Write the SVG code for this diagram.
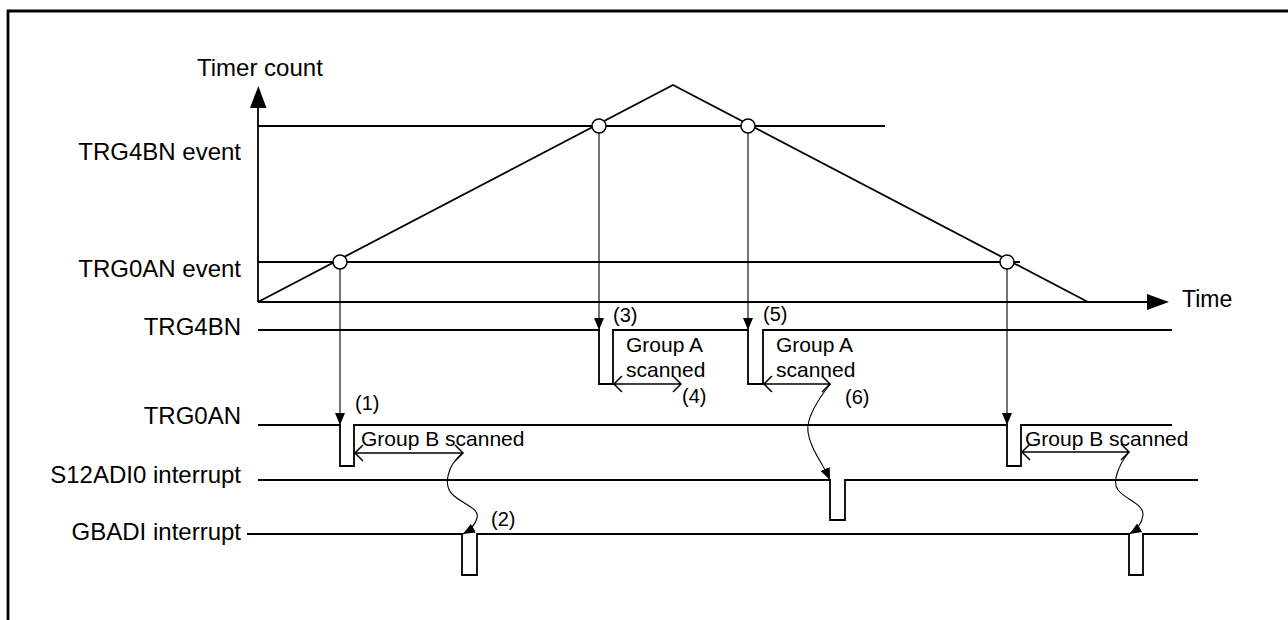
<svg xmlns="http://www.w3.org/2000/svg" width="1288" height="620" viewBox="0 0 1288 620">
<style>
text{font-family:"Liberation Sans",Arial,sans-serif;fill:#000}
.lbl{font-size:24px}
.grp{font-size:21px}
.num{font-size:20px}
.sig{fill:none;stroke:#000;stroke-width:1.8}
.thin{fill:none;stroke:#000;stroke-width:1.1}
.dbl{fill:none;stroke:#000;stroke-width:1.5}
.pt{fill:#fff;stroke:#000;stroke-width:1.5}
</style>
<defs>
<marker id="ah" markerUnits="userSpaceOnUse" markerWidth="12" markerHeight="12" viewBox="0 0 12 12" refX="12" refY="6" orient="auto">
<path d="M0,1 L12,6 L0,11 Z" fill="#000"/>
</marker>
</defs>
<rect width="1288" height="620" fill="#fff"/>
<path d="M8,620 V11 H1288" fill="none" stroke="#000" stroke-width="2.8"/>

<g id="axes">
<path d="M258,302 V106" class="sig" stroke-width="2"/>
<path d="M250,108 L258.3,86 L266.5,108 Z" fill="#000"/>
<path d="M258,302 H1148" class="sig" stroke-width="2"/>
<path d="M1147,294 L1169,302 L1147,310 Z" fill="#000"/>
<text class="lbl" x="197" y="76">Timer count</text>
<text class="lbl" x="1182" y="307" style="font-size:23px">Time</text>
</g>

<g id="event-levels">
<path d="M258,126 H885" class="sig"/>
<path d="M258,262 H1020" class="sig"/>
<text class="lbl" x="241" y="160" text-anchor="end">TRG4BN event</text>
<text class="lbl" x="241" y="277" text-anchor="end">TRG0AN event</text>
</g>

<g id="timer-count">
<path d="M258,302 L673,85 L1088,302" class="sig"/>
</g>

<g id="connectors">
<path d="M340,269 V425" class="thin" marker-end="url(#ah)"/>
<path d="M599,133 V330" class="thin" marker-end="url(#ah)"/>
<path d="M748,133 V330" class="thin" marker-end="url(#ah)"/>
<path d="M1007,269 V425" class="thin" marker-end="url(#ah)"/>
<path d="M463,453 C446,466 444,486 452,494 C462,504 480,508 477,518 C475,526 470,530 463,534" class="thin" marker-end="url(#ah)"/>
<path d="M830,384 C818,400 806,418 808,432 C810,448 822,462 830,480" class="thin" marker-end="url(#ah)"/>
<path d="M1129,452 C1118,466 1112,482 1118,490 C1126,500 1144,504 1143,515 C1142,524 1136,530 1129.5,534" class="thin" marker-end="url(#ah)"/>
</g>

<g id="match-points">
<circle cx="340" cy="262" r="7" class="pt"/>
<circle cx="599" cy="126" r="7" class="pt"/>
<circle cx="748" cy="126" r="7" class="pt"/>
<circle cx="1007" cy="262" r="7" class="pt"/>
</g>

<g id="trg4bn">
<text class="lbl" x="241" y="335" text-anchor="end">TRG4BN</text>
<path d="M258,330 H599 V384 H613 V330 H748 V384 H763 V330 H1172" class="sig"/>
</g>

<g id="trg0an">
<text class="lbl" x="241" y="424" text-anchor="end">TRG0AN</text>
<path d="M258,425 H340 V466 H354 V425 H1007 V466 H1021 V425 H1172" class="sig"/>
</g>

<g id="s12adi0">
<text class="lbl" x="241" y="483" text-anchor="end">S12ADI0 interrupt</text>
<path d="M258,480 H830 V520 H845 V480 H1198" class="sig"/>
</g>

<g id="gbadi">
<text class="lbl" x="241" y="540" text-anchor="end">GBADI interrupt</text>
<path d="M247,534 H462 V575 H477 V534 H1129 V575 H1143 V534 H1198" class="sig"/>
</g>

<g id="scan-b1">
<path d="M355,453 H463 M363,445 L355,453 L363,461 M455,445 L463,453 L455,461" class="dbl"/>
<text class="grp" x="361" y="446">Group B scanned</text>
</g>

<g id="scan-a1">
<path d="M614,384 H681 M622,376 L614,384 L622,392 M673,376 L681,384 L673,392" class="dbl"/>
<text class="grp" x="626" y="352">Group A</text>
<text class="grp" x="626" y="377">scanned</text>
</g>

<g id="scan-a2">
<path d="M764,384 H830 M772,376 L764,384 L772,392 M822,376 L830,384 L822,392" class="dbl"/>
<text class="grp" x="776" y="352">Group A</text>
<text class="grp" x="776" y="377">scanned</text>
</g>

<g id="scan-b2">
<path d="M1022,452 H1129 M1030,444 L1022,452 L1030,460 M1121,444 L1129,452 L1121,460" class="dbl"/>
<text class="grp" x="1025" y="446">Group B scanned</text>
</g>

<g id="step-labels">
<text class="num" x="355" y="410">(1)</text>
<text class="num" x="491" y="526">(2)</text>
<text class="num" x="613" y="322">(3)</text>
<text class="num" x="682" y="403">(4)</text>
<text class="num" x="763" y="321">(5)</text>
<text class="num" x="845" y="404">(6)</text>
</g>
</svg>
